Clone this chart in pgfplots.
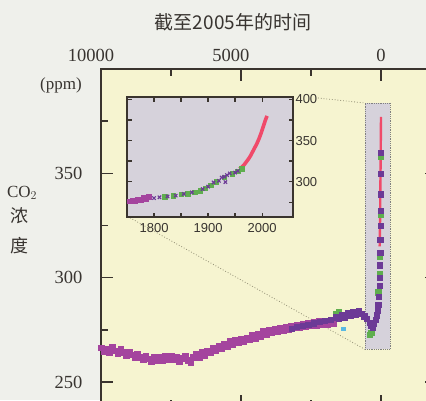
\documentclass[border=0pt]{standalone}
\usepackage{fontspec}
\setmainfont{Liberation Serif}
\newfontfamily\cjk{Noto Sans CJK SC}
\newfontfamily\insetfont{Liberation Sans}
\usepackage{pgfplots}
\pgfplotsset{compat=1.18}
\definecolor{paper}{HTML}{EFF0EB}
\definecolor{mainbg}{HTML}{F6F4D0}
\definecolor{insetbg}{HTML}{D6D2DB}
\definecolor{axcol}{HTML}{3A342E}
\definecolor{magenta}{HTML}{A4449E}
\definecolor{dpurple}{HTML}{6C3A96}
\definecolor{cgreen}{HTML}{5FAE4E}
\definecolor{cred}{HTML}{F04A6A}
\definecolor{ccyan}{HTML}{59B9E3}
\definecolor{txt}{HTML}{383430}

\begin{document}
\begin{tikzpicture}[x=1pt,y=1pt]
\fill[paper] (0,0) rectangle (426,-400);
\begin{scope}
\clip (0,0) rectangle (426,-400);
\begin{axis}[
  at={(101pt,-69pt)}, anchor=north west,
  scale only axis, width=336pt, height=338pt,
  x dir=reverse,
  xmin=-2000, xmax=10000, ymin=238, ymax=400,
  axis background/.style={fill=mainbg},
  axis line style={line width=1.6pt, draw=axcol},
  xtick={0}, minor xtick={2500,7500},
  extra x ticks={5000,10000},
  extra x tick style={xticklabel style={xshift=-10pt}},
  ytick={250,300,350}, minor ytick={275,325,375},
  scaled x ticks=false,
  xticklabel pos=top, xtick pos=both, ytick pos=both,
  tick align=inside,
  major tick length=12pt, minor tick length=7pt,
  every tick/.style={line width=1.6pt, draw=axcol},
  /pgf/number format/1000 sep={},
  /pgf/number format/assume math mode=true,
  tick label style={font=\fontsize{18.5}{20}\selectfont, text=txt},
  xticklabel style={yshift=4pt},
  yticklabel style={xshift=-15pt},
]
% zoom rectangle and connector lines
\fill[insetbg] (axis cs:571,265.6) rectangle (axis cs:-321,383.7);
\draw[gray, densely dotted, line width=0.8pt] (axis cs:571,265.6) rectangle (axis cs:-321,383.7);
\draw[gray!80!olive, dotted, line width=0.8pt] (axis cs:2250,386.1) -- (axis cs:571,383.7);
\draw[gray!80!olive, dotted, line width=0.8pt] (axis cs:8964,328.7) -- (axis cs:571,265.6);
% ice cores, magenta
\addplot[only marks, mark=square*, mark size=2.8pt, color=magenta] coordinates {
(10000,266.5) (9900,264.5) (9800,265.8) (9700,264) (9600,266.8) (9500,265)
(9400,263.8) (9300,266) (9200,264.2) (9100,262.8) (9000,264.6) (8900,263)
(8800,261.8) (8700,263.6) (8600,262) (8500,260.8) (8400,262.6) (8300,261.2)
(8200,260) (8100,262.2) (8000,260.5) (7900,261.8) (7800,260.2) (7700,262.4)
(7600,261) (7500,262.5) (7400,260.6) (7300,262) (7200,260) (7100,261.4)
(7000,262.6) (6900,260.5) (6800,259.6) (6700,262) (6600,263.4) (6500,262)
(6400,264.2) (6300,262.8) (6200,265) (6100,264) (6000,266.2) (5900,265)
(5800,267.2) (5700,266) (5600,268) (5500,267) (5400,269.4) (5300,268.2)
(5200,270) (5100,268.8) (5000,270.8) (4900,269.6) (4800,271.2) (4700,270.2)
(4600,272.4) (4500,271) (4400,273) (4300,272) (4200,274.2) (4100,273)
(4000,275) (3900,273.8) (3800,275.6) (3700,274.2) (3600,276) (3500,274.8)
(3400,276.4) (3300,275) (3200,277) (3100,276) (3000,277.4) (2900,276.2)
(2800,278) (2700,276.8) (2600,278.4) (2500,277) (2400,278.6) (2300,277.2)
(2200,279) (2100,277.8) (2000,279.4) (1900,277.5) (1800,279) (1700,278)
};
% green
\addplot[only marks, mark=square*, mark size=2.6pt, color=cgreen] coordinates {
(1600,282.5) (1500,283.5) (1400,282) (1300,280.8) (1200,281.8)
(400,272.5) (350,273.5) (100,293) (60,302) (40,310) (30,318) (20,330)
(15,340) (10,350) (5,358)
};
% cyan
\addplot[only marks, mark=square*, mark size=1.8pt, color=ccyan] coordinates {(1350,275.5)};
% ice cores, dark purple
\addplot[only marks, mark=square*, mark size=2.6pt, color=dpurple] coordinates {
(3200,275.5) (3000,276.5) (2800,277) (2600,277.5) (2400,278.2) (2200,278.8)
(2000,279.5) (1800,280) (1600,281) (1500,280.4) (1400,282) (1300,281)
(1200,283) (1100,282) (1000,283.5) (900,282.5) (800,284) (700,282.6)
(600,281.5) (500,280.2) (400,278.5) (350,276.8) (300,276) (250,278)
(200,280) (150,282) (120,284) (100,287) (80,291) (60,296) (50,300)
(40,306) (30,312) (25,318) (20,325) (15,332) (10,340) (5,350) (0,360)
};
% Mauna Loa
\addplot[cred, line width=2.4pt, no markers] coordinates {
(47,315) (40,320) (30,331) (20,346) (10,361) (0,377)
};
\end{axis}

\begin{axis}[
  at={(127pt,-97pt)}, anchor=north west,
  scale only axis, width=166pt, height=120pt,
  xmin=1750, xmax=2057, ymin=257, ymax=403,
  axis background/.style={fill=insetbg},
  axis line style={line width=1.4pt, draw=axcol},
  xtick={1800,1900,2000}, minor xtick={1850,1950},
  ytick={300,350,400}, minor ytick={275,325,375},
  scaled x ticks=false,
  yticklabel pos=right, xtick pos=both, ytick pos=both,
  tick align=inside,
  major tick length=4.5pt, minor tick length=4.5pt,
  every tick/.style={line width=1.3pt, draw=axcol},
  /pgf/number format/1000 sep={},
  /pgf/number format/assume math mode=true,
  tick label style={font=\insetfont\fontsize{13}{15}\selectfont, text=txt},
  xticklabel style={yshift=-3pt},
  yticklabel style={xshift=-1pt},
]
\addplot[only marks, mark=square*, mark size=2.2pt, color=magenta] coordinates {
(1755,276) (1760,277.5) (1765,276.8) (1770,278.5) (1775,278) (1780,280.5)
(1785,279.5) (1790,281.5)
};
\addplot[only marks, mark=square*, mark size=2.2pt, color=cgreen] coordinates {
(1820,281.5) (1835,283) (1850,284.5) (1862,285.5) (1875,287.5) (1885,289)
(1895,292) (1905,296) (1915,300) (1930,305.5) (1945,309.5) (1955,312.5) (1962,316)
};
\addplot[only marks, mark=x, mark size=2.4pt, line width=1.1pt, color=dpurple] coordinates {
(1800,280) (1810,281) (1825,282) (1840,283) (1855,285) (1870,287)
(1890,291) (1900,294) (1910,299) (1920,301) (1925,305) (1930,306)
(1935,308) (1940,310) (1950,311) (1955,313) (1932,299.5)
};
\addplot[cred, line width=3.6pt, no markers] coordinates {
(1958,315.5) (1962,317.5) (1966,320) (1970,323.5) (1974,327) (1978,331)
(1982,336) (1986,341) (1990,346) (1994,352) (1998,359) (2002,367)
(2006,375) (2009,380)
};
\end{axis}
\end{scope}

\node[text=txt, font=\cjk\fontsize{19}{21}\selectfont] at (233,-22) {截至2005年的时间};
\node[text=txt, font=\fontsize{17}{19}\selectfont] at (61,-85) {(ppm)};
\node[text=txt, font=\fontsize{17}{19}\selectfont] at (22,-193) {CO$_2$};
\node[text=txt, font=\cjk\fontsize{18}{20}\selectfont] at (19,-216) {浓};
\node[text=txt, font=\cjk\fontsize{18}{20}\selectfont] at (19,-246) {度};
\pgfresetboundingbox
\useasboundingbox (0,0) rectangle (426,-400);
\end{tikzpicture}
\end{document}
